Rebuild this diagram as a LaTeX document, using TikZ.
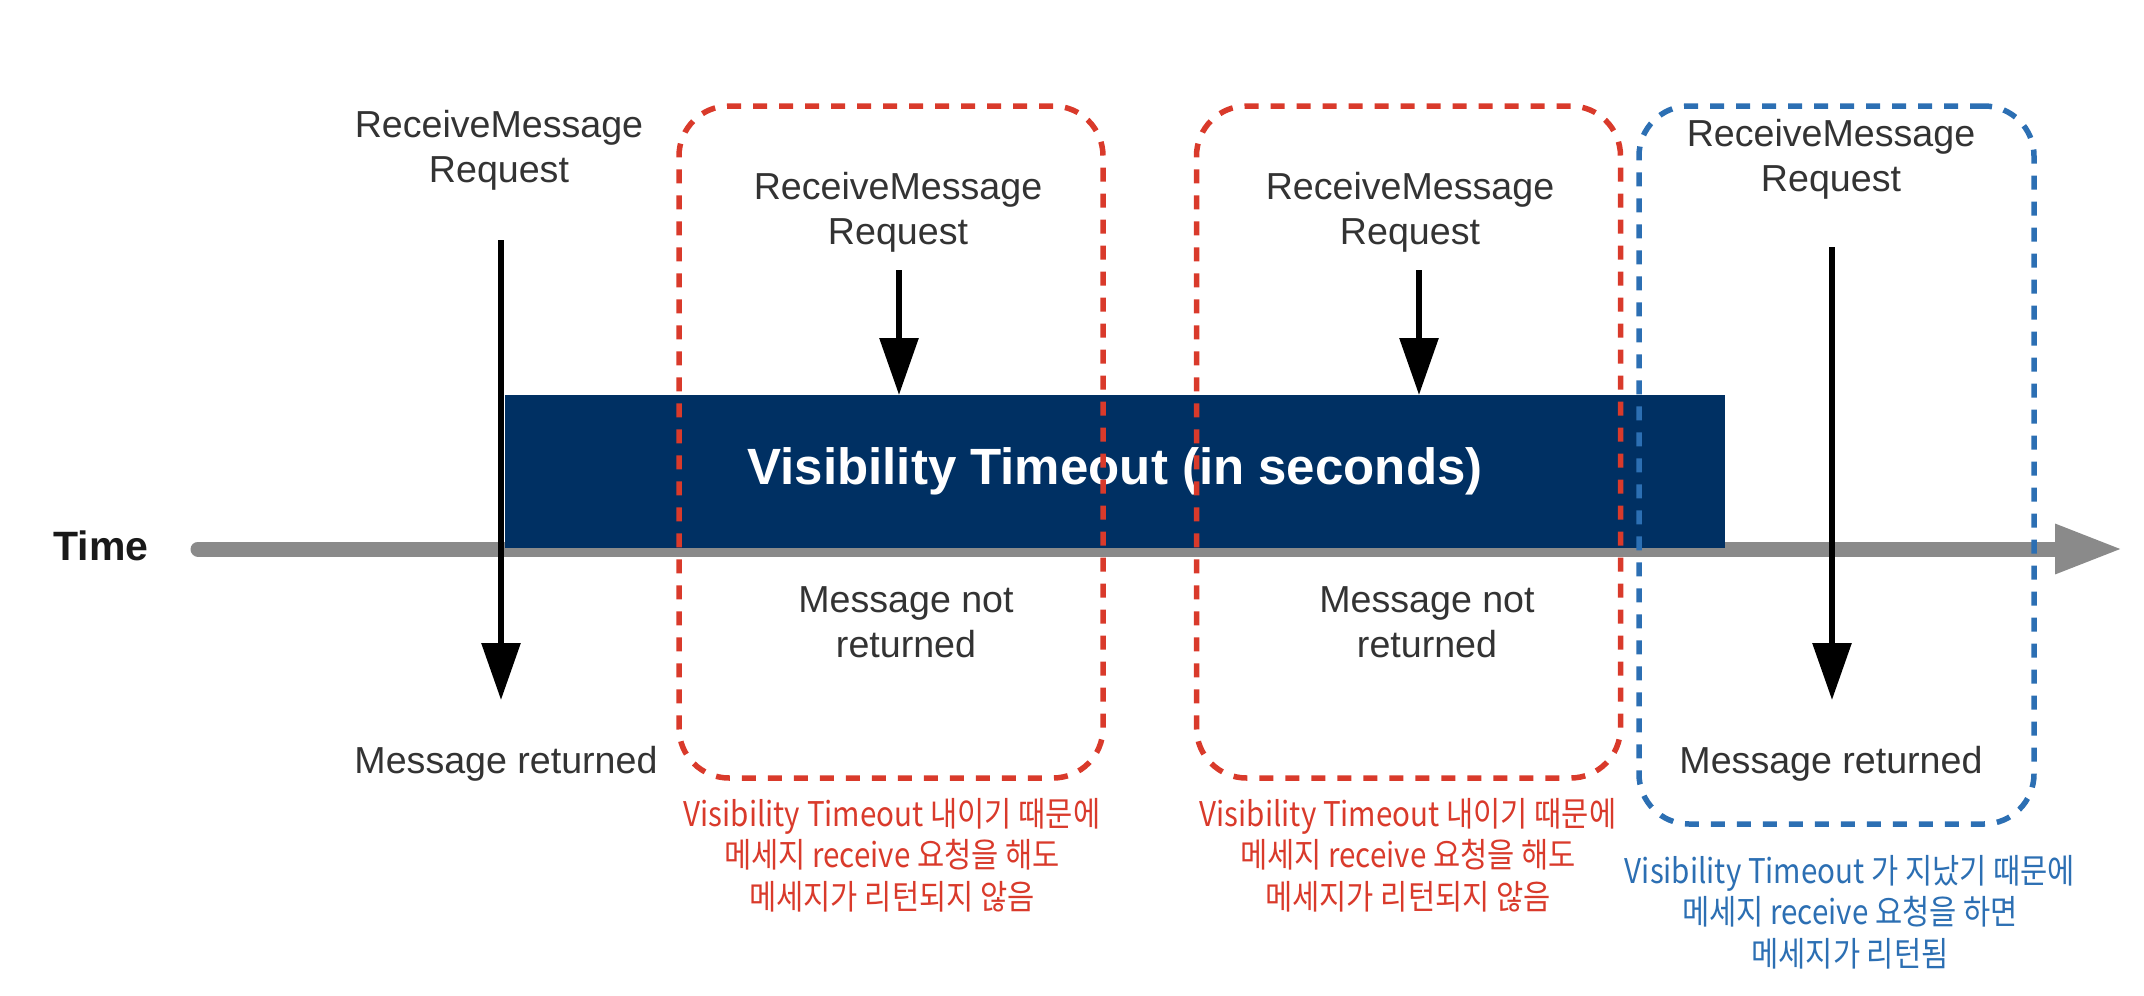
\documentclass[tikz,border=0pt]{standalone}
\usepackage{fontspec}
\setmainfont{Liberation Sans}
\newfontfamily\kr[FakeStretch=0.87]{Noto Sans CJK KR}
\usetikzlibrary{arrows.meta}
\definecolor{navy}{HTML}{003063}
\definecolor{boxred}{HTML}{D93A2B}
\definecolor{boxblue}{HTML}{2C6FB3}
\definecolor{axisgray}{HTML}{8A8A8A}
\definecolor{labelgray}{HTML}{333333}
\begin{document}
\begin{tikzpicture}[x=0.5pt,y=-0.5pt,
  lbl/.style={text=labelgray, font=\fontsize{18.8}{22.5}\selectfont, align=center, inner sep=0pt},
  note/.style={font=\kr\fontsize{17}{20.75}\selectfont, align=center, inner sep=0pt},
  darr/.style={draw=black, line width=3pt, -{Triangle[length=28.5pt,width=19pt]}},
  dbox/.style={draw, line width=2.75pt, dash pattern=on 7pt off 6pt, rounded corners=25pt, inner sep=0pt},
  redbox/.style={dbox, draw=boxred, minimum width=212pt, minimum height=336pt},
  bluebox/.style={dbox, draw=boxblue, minimum width=197.5pt, minimum height=359pt}
]
\useasboundingbox (0,0) rectangle (2144,996);

% time axis
\coordinate (tstart) at (198,549);
\coordinate (tend) at (2123,549);
\draw[axisgray, line width=7.5pt, line cap=round, -{Triangle[length=34pt,width=23pt]}] (tstart) -- (tend);
\node[font=\bfseries\fontsize{20.5}{24}\selectfont, text=black!90, anchor=base west, inner sep=0pt] (time) at (53,560) {Time};

% visibility timeout bar
\node[fill=navy, minimum width=610pt, minimum height=76.5pt, inner sep=0pt, text=white,
      font=\bfseries\fontsize{25.5}{30}\selectfont] (vt) at (1115,471.5) {Visibility Timeout (in seconds)};

% labels
\node[lbl] (rq1) at (499,150) {ReceiveMessage\\Request};
\node[lbl] (rq2) at (898,212) {ReceiveMessage\\Request};
\node[lbl] (rq3) at (1410,212) {ReceiveMessage\\Request};
\node[lbl] (rq4) at (1831,159) {ReceiveMessage\\Request};
\node[lbl, anchor=base] (mr1) at (506,773) {Message returned};
\node[lbl, anchor=base] (mr2) at (1831,773) {Message returned};
\node[lbl] (mn1) at (906,622) {Message not\\returned};
\node[lbl] (mn2) at (1427,622) {Message not\\returned};

% arrows
\coordinate (a1s) at (501,240);
\coordinate (a1e) at (501,700);
\coordinate (a2s) at (899,270);
\coordinate (a2e) at (899,395);
\coordinate (a3s) at (1419,270);
\coordinate (a3e) at (1419,395);
\coordinate (a4s) at (1832,247);
\coordinate (a4e) at (1832,700);
\draw[darr] (a1s) -- (a1e);
\draw[darr] (a2s) -- (a2e);
\draw[darr] (a3s) -- (a3e);
\draw[darr] (a4s) -- (a4e);

% dashed boxes
\node[redbox] (b1) at (891,442) {};
\node[redbox] (b2) at (1408.5,442) {};
\node[bluebox] (b3) at (1836.5,465) {};

% notes
\node[note, text=boxred] (n1) at (892,855) {Visibility Timeout 내이기 때문에\\메세지 receive 요청을 해도\\메세지가 리턴되지 않음};
\node[note, text=boxred] (n2) at (1408,855) {Visibility Timeout 내이기 때문에\\메세지 receive 요청을 해도\\메세지가 리턴되지 않음};
\node[note, text=boxblue] (n3) at (1850,912) {Visibility Timeout 가 지났기 때문에\\메세지 receive 요청을 하면\\메세지가 리턴됨};
\end{tikzpicture}
\end{document}
